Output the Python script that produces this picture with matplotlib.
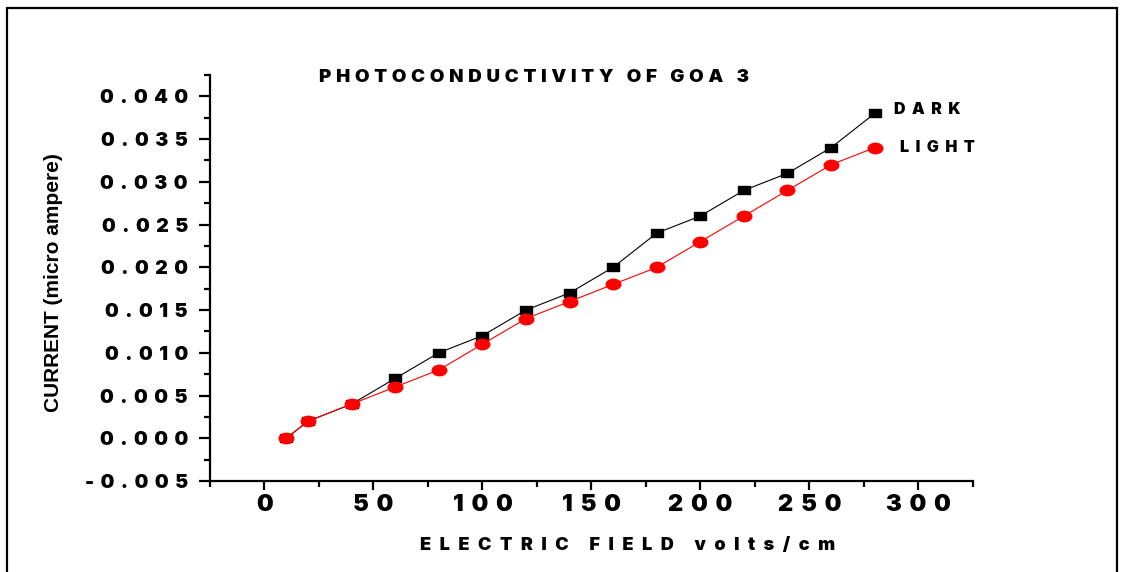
import matplotlib
matplotlib.use("Agg")
import matplotlib.pyplot as plt
from matplotlib.path import Path
from matplotlib.transforms import Affine2D
from matplotlib.ticker import MultipleLocator, FixedLocator, FixedFormatter
from matplotlib.patches import Rectangle

# ---- data ----
field = [10, 20, 40, 60, 80, 100, 120, 140, 160, 180, 200, 220, 240, 260, 280]
dark = [0.000, 0.002, 0.004, 0.007, 0.010, 0.012, 0.015, 0.017, 0.020, 0.024,
        0.026, 0.029, 0.031, 0.034, 0.038]
light = [0.000, 0.002, 0.004, 0.006, 0.008, 0.011, 0.014, 0.016, 0.018, 0.020,
         0.023, 0.026, 0.029, 0.032, 0.034]
xticks = [0, 50, 100, 150, 200, 250, 300]
xtick_labels = ["0", "50", "100", "150", "200", "250", "300"]
yticks = [-0.005, 0.000, 0.005, 0.010, 0.015, 0.020, 0.025, 0.030, 0.035, 0.040]
ytick_labels = ["-0.005", "0.000", "0.005", "0.010", "0.015", "0.020",
                "0.025", "0.030", "0.035", "0.040"]
title = "PHOTOCONDUCTIVITY OF GOA 3"
xlabel = "ELECTRIC FIELD volts/cm"
ylabel = "CURRENT (micro ampere)"
series_names = ["DARK", "LIGHT"]

HEAVY = dict(family=["Inter", "DejaVu Sans"], fontweight="black")


def sp(s, gap):
    return gap.join(s)


# stretched markers (the original image is horizontally stretched)
sq_path = Path([(-0.7, -0.5), (0.7, -0.5), (0.7, 0.5), (-0.7, 0.5), (-0.7, -0.5)],
               [Path.MOVETO, Path.LINETO, Path.LINETO, Path.LINETO, Path.CLOSEPOLY])
circ_path = Affine2D().scale(1.4, 1.0).transform_path(Path.unit_circle())

W, H = 1121, 572
fig = plt.figure(figsize=(W / 100, H / 100), dpi=100)
fig.patch.set_facecolor("white")

# outer frame
fig.patches.append(Rectangle((7 / W, -0.05), (1117 - 7) / W, 1.05 - 8 / H,
                             transform=fig.transFigure, fill=False,
                             edgecolor="black", linewidth=1.6, clip_on=False))

ax = fig.add_axes([210 / W, 1 - 481 / H, (972.7 - 210) / W, (481 - 75) / H])
ax.set_xlim(-25, 325)
ax.set_ylim(-0.005, 0.0425)
for s in ["top", "right"]:
    ax.spines[s].set_visible(False)
for s in ["left", "bottom"]:
    ax.spines[s].set_linewidth(1.6)

ax.plot(field, dark, color="black", lw=0.8, marker=sq_path, markersize=9,
        markerfacecolor="black", markeredgecolor="black", zorder=3)
ax.plot(field, light, color="red", lw=0.8, marker=circ_path, markersize=10.5,
        markerfacecolor="red", markeredgecolor="red", zorder=4)

ax.annotate(sp(series_names[0], "\u2004\u200a"), (field[-1], dark[-1]), xytext=(14, 3),
            textcoords="offset points", fontsize=11.5, va="center", ha="left", **HEAVY)
ax.annotate(sp(series_names[1], "\u2004\u200a"), (field[-1], light[-1]), xytext=(18, 0),
            textcoords="offset points", fontsize=11.5, va="center", ha="left", **HEAVY)

ax.xaxis.set_major_locator(FixedLocator(xticks))
ax.xaxis.set_major_formatter(FixedFormatter([sp(t, "\u2004") for t in xtick_labels]))
ax.yaxis.set_major_locator(FixedLocator(yticks))
ax.yaxis.set_major_formatter(FixedFormatter([sp(t, "\u2004") for t in ytick_labels]))
ax.xaxis.set_minor_locator(MultipleLocator(25))
ax.yaxis.set_minor_locator(MultipleLocator(0.0025))

ax.tick_params(axis="x", which="major", direction="out", length=6.5, width=1.6,
               labelsize=17, pad=3)
ax.tick_params(axis="x", which="minor", direction="out", length=4, width=1.6)
ax.tick_params(axis="y", which="major", direction="out", length=8, width=1.6,
               labelsize=14, pad=8)
ax.tick_params(axis="y", which="minor", direction="out", length=4, width=1.6)
for lab in ax.get_xticklabels() + ax.get_yticklabels():
    lab.set_family(HEAVY["family"])
    lab.set_fontweight("black")

fig.text(534 / W, 1 - 77 / H, sp(title, "\u2005"), ha="center", va="center",
         fontsize=13.5, **HEAVY)
fig.text(628 / W, 1 - 545 / H, sp(xlabel, "\u2004\u2009"), ha="center", va="center",
         fontsize=13, **HEAVY)
fig.text(54 / W, 1 - 283 / H, ylabel, ha="center", va="center", rotation=90,
         fontsize=15, fontweight="bold", family="Liberation Sans")

fig.savefig("out.png", dpi=100)
